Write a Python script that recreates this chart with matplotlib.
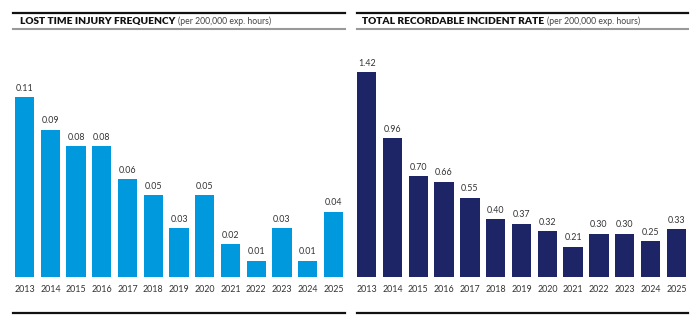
import matplotlib
matplotlib.use("Agg")
import matplotlib.pyplot as plt
from matplotlib.lines import Line2D

years = ["2013", "2014", "2015", "2016", "2017", "2018", "2019",
         "2020", "2021", "2022", "2023", "2024", "2025"]
ltif = [0.11, 0.09, 0.08, 0.08, 0.06, 0.05, 0.03, 0.05, 0.02, 0.01, 0.03, 0.01, 0.04]
trir = [1.42, 0.96, 0.70, 0.66, 0.55, 0.40, 0.37, 0.32, 0.21, 0.30, 0.30, 0.25, 0.33]

title_left = "LOST TIME INJURY FREQUENCY"
title_right = "TOTAL RECORDABLE INCIDENT RATE"
subtitle = "(per 200,000 exp. hours)"

plt.rcParams['font.family'] = ['Lato', 'DejaVu Sans']

W, H = 700, 329
fig = plt.figure(figsize=(7, 3.29), dpi=100)
fig.patch.set_facecolor("white")

def panel(x0, x1, values, color, ymax, title, tx, lx0, lx1):
    base, top = 277, 40
    ax = fig.add_axes([x0 / W, 1 - base / H, (x1 - x0) / W, (base - top) / H])
    pos = list(range(len(values)))
    ax.bar(pos, values, width=0.75, color=color)
    ax.set_xlim(-0.375, len(values) - 1 + 0.375)
    ax.set_ylim(0, ymax)
    for p, v in zip(pos, values):
        ax.text(p, v + ymax * 0.018, f"{v:.2f}", ha="center", va="bottom",
                fontsize=6.4, color="#333333")
    ax.set_xticks(pos)
    ax.set_xticklabels(years, fontsize=6.4, color="#333333")
    ax.tick_params(axis="x", length=0, pad=6)
    ax.set_yticks([])
    for s in ax.spines.values():
        s.set_visible(False)
    fig.add_artist(Line2D([lx0 / W, lx1 / W], [1 - 12.5 / H] * 2, color="#111111", lw=1.6))
    fig.add_artist(Line2D([lx0 / W, lx1 / W], [1 - 29 / H] * 2, color="#999999", lw=1.5))
    fig.add_artist(Line2D([lx0 / W, lx1 / W], [1 - 313 / H] * 2, color="#111111", lw=1.6))
    t = fig.text(tx / W, 1 - 24 / H, title, fontsize=7.3, fontweight="heavy",
                 color="#111111", va="baseline", ha="left")
    fig.canvas.draw()
    bb = t.get_window_extent()
    fig.text(bb.x1 / W + 3 / W, 1 - 24 / H, subtitle, fontsize=6.2,
             color="#444444", va="baseline", ha="left")
    return ax

panel(15, 343, ltif, "#0099DD", 0.11 * 237 / 180, title_left, 20, 13, 345)
panel(357, 686, trir, "#1E2566", 1.42 * 237 / 205, title_right, 362, 357, 688)

fig.savefig("out.png", dpi=100, facecolor="white")
